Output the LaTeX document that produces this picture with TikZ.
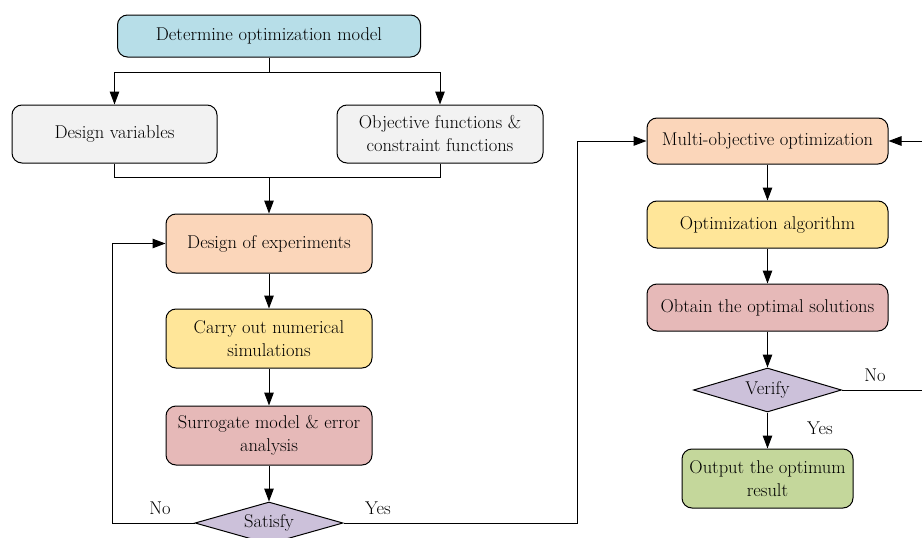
\documentclass[tikz,border=0pt]{standalone}
\usetikzlibrary{shapes.geometric,arrows.meta}
\definecolor{cblue}{HTML}{B7DEE8}
\definecolor{cgray}{HTML}{F2F2F2}
\definecolor{cpeach}{HTML}{FBD6BA}
\definecolor{cyellow}{HTML}{FFE699}
\definecolor{cpink}{HTML}{E6B9B8}
\definecolor{clav}{HTML}{CCC1DA}
\definecolor{cgreen}{HTML}{C4D79B}
\begin{document}
\begin{tikzpicture}[x=1pt,y=-1pt,
  every node/.style={font=\fontsize{18.5}{23}\selectfont, text=black},
  box/.style={draw=black, line width=1pt, rounded corners=10pt, align=center, inner sep=0pt},
  dia/.style={diamond, draw=black, line width=1pt, inner sep=0pt, aspect=3.5},
  arr/.style={-{Triangle[length=13pt,width=9.5pt]}, line width=1pt},
  ln/.style={line width=1pt}]
\useasboundingbox (0,0) rectangle (922,538);
% left column
\node[box, fill=cblue, minimum width=303pt, minimum height=42pt] (det) at (269,36) {Determine optimization model};
\node[box, fill=cgray, minimum width=205pt, minimum height=58pt] (dv) at (114.5,134) {Design variables};
\node[box, fill=cgray, minimum width=206pt, minimum height=58pt] (of) at (440,134) {Objective functions \&\\constraint functions};
\node[box, fill=cpeach, minimum width=206pt, minimum height=59pt] (doe) at (269,243.5) {Design of experiments};
\node[box, fill=cyellow, minimum width=206pt, minimum height=59pt] (cns) at (269,338.5) {Carry out numerical\\simulations};
\node[box, fill=cpink, minimum width=206pt, minimum height=59pt] (sur) at (269,435.5) {Surrogate model \& error\\analysis};
\node[dia, fill=clav, minimum width=148pt, minimum height=42pt] (sat) at (269,523) {Satisfy};
% right column
\node[box, fill=cpeach, minimum width=241pt, minimum height=46pt] (moo) at (767.5,141) {Multi-objective optimization};
\node[box, fill=cyellow, minimum width=241pt, minimum height=47pt] (oa) at (767.5,224.5) {Optimization algorithm};
\node[box, fill=cpink, minimum width=241pt, minimum height=47pt] (obt) at (767.5,307.5) {Obtain the optimal solutions};
\node[dia, fill=clav, minimum width=148pt, minimum height=44pt] (ver) at (767.5,390) {Verify};
\node[box, fill=cgreen, minimum width=171pt, minimum height=59pt] (out) at (767.5,478.5) {Output the optimum\\result};
% coordinates
\coordinate (split) at (269,72);
\coordinate (join) at (269,177);
\coordinate (noL) at (112,523);
\coordinate (yesR) at (577,523);
\coordinate (loopR) at (940,390);
% top connectors
\draw[ln] (det.south) -- (split);
\draw[arr] (split) -| (dv.north);
\draw[arr] (split) -| (of.north);
\draw[ln] (dv.south) |- (join);
\draw[ln] (of.south) |- (join);
\draw[arr] (join) -- (doe.north);
\draw[arr] (doe) -- (cns);
\draw[arr] (cns) -- (sur);
\draw[arr] (sur) -- (sat.north);
% satisfy branches
\draw[arr] (sat.west) -- (noL) |- (doe.west);
\draw[arr] (sat.east) -- (yesR) |- (moo.west);
\node at (160,508) {No};
\node at (378,508) {Yes};
% right column connectors
\draw[arr] (moo) -- (oa);
\draw[arr] (oa) -- (obt);
\draw[arr] (obt.south) -- (ver.north);
\draw[arr] (ver.south) -- (out.north);
\draw[arr] (ver.east) -- (loopR) |- (moo.east);
\node at (875,375) {No};
\node at (820,428) {Yes};
\end{tikzpicture}
\end{document}
